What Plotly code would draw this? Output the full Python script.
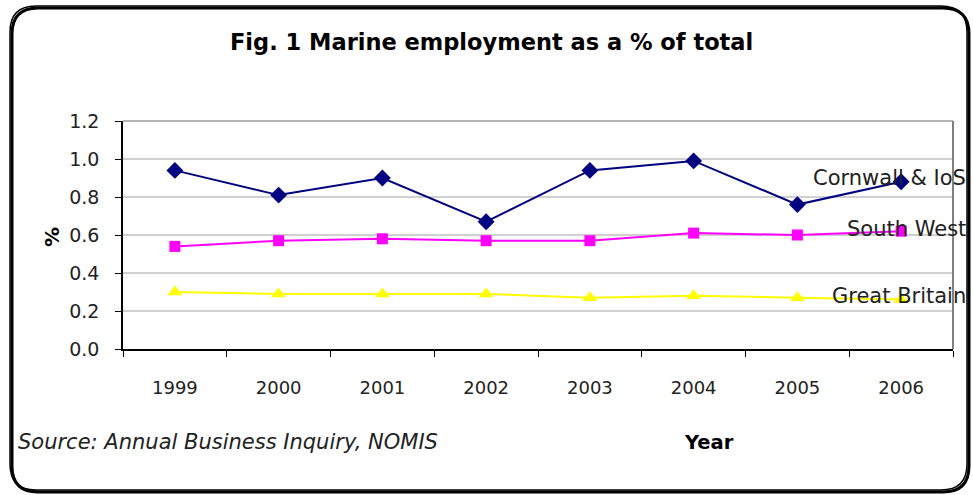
import plotly.graph_objects as go

years = ["1999", "2000", "2001", "2002", "2003", "2004", "2005", "2006"]
cornwall = [0.94, 0.81, 0.90, 0.67, 0.94, 0.99, 0.76, 0.88]
south_west = [0.54, 0.57, 0.58, 0.57, 0.57, 0.61, 0.60, 0.62]
great_britain = [0.30, 0.29, 0.29, 0.29, 0.27, 0.28, 0.27, 0.26]
series_names = ["Cornwall & IoS", "South West", "Great Britain"]

W, H = 973, 495
L, R, T, B = 123, 953, 121, 349

def px(x):
    return (x - L) / (R - L)

def py(y):
    return (B - y) / (B - T)

FONT = "DejaVu Sans"
fig = go.Figure()
fig.add_trace(go.Scatter(x=years, y=cornwall, name=series_names[0], mode="lines+markers",
                         line=dict(color="#000080", width=2),
                         marker=dict(symbol="diamond", size=13, color="#000080")))
fig.add_trace(go.Scatter(x=years, y=south_west, name=series_names[1], mode="lines+markers",
                         line=dict(color="#FF00FF", width=2),
                         marker=dict(symbol="square", size=11, color="#FF00FF")))
fig.add_trace(go.Scatter(x=years, y=great_britain, name=series_names[2], mode="lines+markers",
                         line=dict(color="#FFFF00", width=2),
                         marker=dict(symbol="triangle-up", size=13, color="#FFFF00")))

label_pix = [178, 229, 296]
for name, ypix in zip(series_names, label_pix):
    fig.add_annotation(x=px(968), y=py(ypix), xref="paper", yref="paper", text=name,
                       showarrow=False, xanchor="right", yanchor="middle",
                       font=dict(family=FONT, size=21, color="#222222"))

fig.add_annotation(x=px(491), y=py(42), xref="paper", yref="paper",
                   text="<b>Fig. 1 Marine employment as a % of total</b>", showarrow=False,
                   xanchor="center", yanchor="middle", font=dict(family=FONT, size=22.5, color="#000000"))
fig.add_annotation(x=px(52), y=py(237), xref="paper", yref="paper", text="<b>%</b>",
                   showarrow=False, textangle=-90, xanchor="center", yanchor="middle",
                   font=dict(family=FONT, size=20, color="#000000"))
fig.add_annotation(x=px(709), y=py(442), xref="paper", yref="paper", text="<b>Year</b>",
                   showarrow=False, xanchor="center", yanchor="middle",
                   font=dict(family=FONT, size=19.5, color="#000000"))
fig.add_annotation(x=px(16), y=py(442), xref="paper", yref="paper",
                   text="<i>Source: Annual Business Inquiry, NOMIS</i>", showarrow=False,
                   xanchor="left", yanchor="middle", font=dict(family=FONT, size=21, color="#222222"))

def rounded(x0, y0, x1, y1, r):
    X0, X1 = px(x0), px(x1)
    Y0, Y1 = py(y0), py(y1)
    rx = r / (R - L)
    ry = r / (B - T)
    return (f"M {X0+rx},{Y0} L {X1-rx},{Y0} Q {X1},{Y0} {X1},{Y0-ry} "
            f"L {X1},{Y1+ry} Q {X1},{Y1} {X1-rx},{Y1} L {X0+rx},{Y1} "
            f"Q {X0},{Y1} {X0},{Y1+ry} L {X0},{Y0-ry} Q {X0},{Y0} {X0+rx},{Y0} Z")

fig.add_shape(type="path", xref="paper", yref="paper", path=rounded(12, 8, 969, 492, 26),
              line=dict(color="#000000", width=3))
fig.add_shape(type="path", xref="paper", yref="paper", path=rounded(10, 6, 967, 490, 26),
              line=dict(color="#000000", width=1.5), fillcolor="rgba(0,0,0,0)")
# plot area frame (top and right)
fig.add_shape(type="line", xref="paper", yref="paper", x0=0, x1=1, y0=1, y1=1,
              line=dict(color="#9a9a9a", width=1.5))
fig.add_shape(type="line", xref="paper", yref="paper", x0=1, x1=1, y0=0, y1=1,
              line=dict(color="#808080", width=2))

fig.update_layout(
    width=W, height=H, margin=dict(l=L, r=W - R, t=T, b=H - B),
    paper_bgcolor="white", plot_bgcolor="white", showlegend=False,
    font=dict(family=FONT, color="#222222"),
    xaxis=dict(type="category", range=[-0.5, 7.5], showgrid=False, showline=True,
               linecolor="#000000", linewidth=1.5, ticks="outside", tickson="boundaries",
               ticklen=6, tickcolor="#000000", tickfont=dict(size=18, color="#222222"),
               ticklabelstandoff=22, zeroline=False),
    yaxis=dict(range=[0, 1.2], dtick=0.2, tickformat=".1f", showgrid=True,
               gridcolor="#d0d0d0", gridwidth=1.5, showline=True, linecolor="#000000",
               linewidth=1.5, ticks="outside", ticklen=6, tickcolor="#000000",
               tickfont=dict(size=19, color="#222222"), ticklabelstandoff=12, zeroline=False),
)
fig.write_html("out.html", config={"displayModeBar": False},
               post_script="document.body.style.margin='0';document.body.style.overflow='hidden';")
